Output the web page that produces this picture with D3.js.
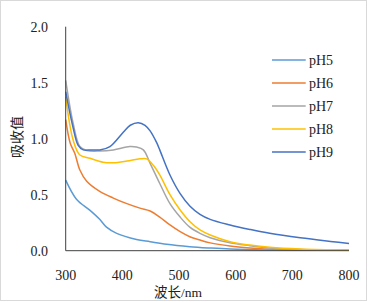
<!DOCTYPE html>
<html><head><meta charset="utf-8">
<script src="https://cdn.jsdelivr.net/npm/d3@7"></script>
<style>body{margin:0;background:#fff}svg{display:block}</style>
</head><body>
<svg id="c" width="369" height="302"></svg>
<script>
const seriesNames = ["pH5","pH6","pH7","pH8","pH9"];
const colors = ["#5B9BD5","#ED7D31","#A5A5A5","#FFC000","#4472C4"];
const xTicks = [300,400,500,600,700,800];
const yTicks = [0,0.5,1.0,1.5,2.0];

const pH5 = [[300,0.63],[319,0.46],[343,0.36],[360,0.28],[372,0.21],[390,0.155],[425,0.10],[449,0.08],[478,0.057],[519,0.036],[555,0.024],[590,0.015],[655,0.007],[720,0.004],[800,0.003]];
const pH6 = [[300,1.17],[308,0.96],[316,0.87],[325,0.72],[337,0.62],[360,0.53],[384,0.47],[408,0.42],[431,0.38],[449,0.355],[466,0.30],[484,0.23],[502,0.17],[519,0.125],[537,0.095],[555,0.07],[590,0.042],[625,0.025],[660,0.014],[720,0.007],[800,0.003]];
const pH7 = [[300,1.52],[313,1.14],[325,0.93],[337,0.895],[360,0.89],[384,0.90],[413,0.93],[425,0.925],[437,0.90],[449,0.78],[466,0.60],[484,0.42],[502,0.30],[519,0.21],[537,0.155],[555,0.116],[590,0.07],[625,0.045],[660,0.025],[714,0.01],[800,0.003]];
const pH8 = [[300,1.375],[313,0.99],[325,0.855],[343,0.825],[366,0.79],[384,0.785],[408,0.80],[431,0.82],[443,0.82],[455,0.76],[466,0.676],[484,0.50],[502,0.363],[519,0.26],[537,0.185],[555,0.14],[590,0.08],[625,0.05],[660,0.03],[714,0.015],[800,0.006]];
const pH9 = [[300,1.42],[313,1.10],[322,0.94],[331,0.90],[345,0.90],[360,0.90],[378,0.93],[402,1.06],[414,1.12],[428,1.143],[440,1.12],[449,1.07],[461,0.96],[466,0.90],[484,0.676],[502,0.51],[519,0.40],[537,0.325],[555,0.28],[590,0.23],[625,0.19],[660,0.155],[714,0.115],[772,0.08],[800,0.064]];
const allSeries = [pH5,pH6,pH7,pH8,pH9];

const svg = d3.select("#c");
svg.append("rect").attr("x",0.5).attr("y",0.5).attr("width",366).attr("height",300)
  .attr("fill","#fff").attr("stroke","#d9d9d9");

const x = d3.scaleLinear().domain([300,800]).range([65.7,349]);
const y = d3.scaleLinear().domain([0,2]).range([250.7,26.7]);

const line = d3.line().x(d=>x(d[0])).y(d=>y(d[1])).curve(d3.curveCatmullRom.alpha(0.5));
allSeries.forEach((s,i)=>{
  svg.append("path").attr("d",line(s)).attr("fill","none")
    .attr("stroke",colors[i]).attr("stroke-width",1.5);
});

// axes
svg.append("line").attr("x1",x(300)).attr("x2",x(300)).attr("y1",y(2)).attr("y2",y(0)).attr("stroke","#404040").attr("stroke-width",1);
svg.append("line").attr("x1",x(300)).attr("x2",x(800)).attr("y1",y(0)).attr("y2",y(0)).attr("stroke","#404040").attr("stroke-width",1);

const serif = "'Liberation Serif','Times New Roman',serif";
svg.selectAll(".yt").data(yTicks).enter().append("text")
  .attr("x",48).attr("y",d=>y(d)+5).attr("text-anchor","end")
  .attr("font-family",serif).attr("font-size",14).attr("fill","#222")
  .text(d=>d.toFixed(1));
svg.selectAll(".xt").data(xTicks).enter().append("text")
  .attr("x",d=>x(d)).attr("y",280).attr("text-anchor","middle")
  .attr("font-family",serif).attr("font-size",14).attr("fill","#222")
  .text(d=>d);

svg.append("text").attr("x",178).attr("y",296.5).attr("text-anchor","middle")
  .attr("font-size",13.5).attr("fill","#222")
  .attr("font-family","'Liberation Serif','Noto Sans CJK SC',serif")
  .text("波长/nm");
svg.append("text").attr("transform","translate(22,137) rotate(-90)").attr("text-anchor","middle")
  .attr("font-family","Noto Sans CJK SC").attr("font-size",14).attr("fill","#222").text("吸收值");

// legend
seriesNames.forEach((n,i)=>{
  const ly = 60 + i*23;
  svg.append("line").attr("x1",272).attr("x2",305.7).attr("y1",ly).attr("y2",ly)
    .attr("stroke",colors[i]).attr("stroke-width",1.5);
  svg.append("text").attr("x",309).attr("y",ly+5).attr("font-family",serif)
    .attr("font-size",14).attr("fill","#222").text(n);
});
</script>
</body></html>
